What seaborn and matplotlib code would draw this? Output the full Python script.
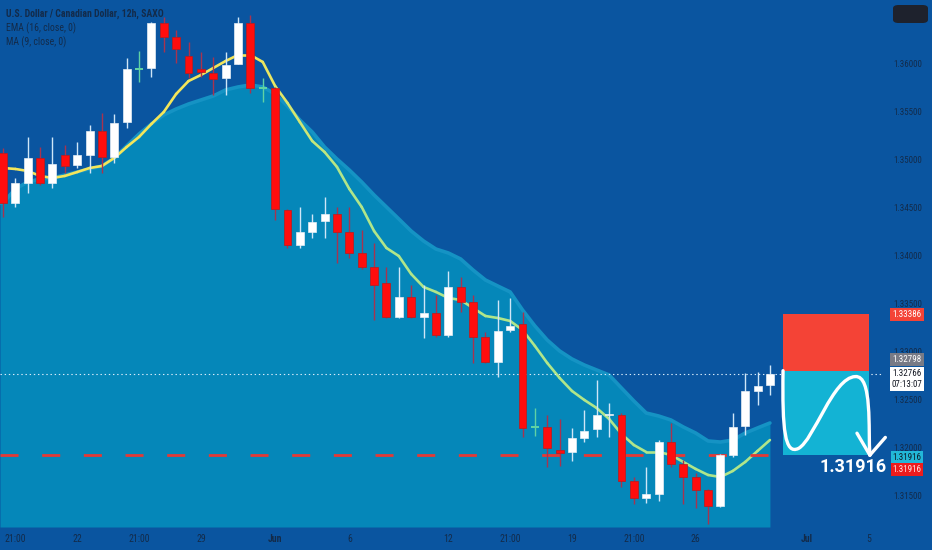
import numpy as np
import matplotlib
matplotlib.use("Agg")
import matplotlib.pyplot as plt
import seaborn as sns
from matplotlib import font_manager
from matplotlib.collections import LineCollection
from matplotlib.colors import to_rgb
from matplotlib.patches import FancyBboxPatch, Rectangle, PathPatch
from matplotlib.path import Path
from matplotlib.transforms import blended_transform_factory

# candles, 12h USDCAD
opens = [1.35071, 1.34549, 1.34758, 1.35019, 1.34758, 1.35050, 1.34945, 1.35050, 1.35300, 1.35029,
         1.35394, 1.35948, 1.35958, 1.36428, 1.36282, 1.36084, 1.35948, 1.35906, 1.35854, 1.36000,
         1.36428, 1.35749, 1.35749, 1.34476, 1.34110, 1.34246, 1.34361, 1.34434, 1.34246, 1.34027,
         1.33881, 1.33714, 1.33359, 1.33567, 1.33359, 1.33400, 1.33171, 1.33672, 1.33515, 1.33150,
         1.32889, 1.33223, 1.33285, 1.32210, 1.32210, 1.31970, 1.31949, 1.32095, 1.32189, 1.32335,
         1.32335, 1.31646, 1.31469, 1.31511, 1.32053, 1.31824, 1.31688, 1.31552, 1.31385, 1.31918,
         1.32220, 1.32586, 1.32649]
highs = [1.35123, 1.34810, 1.35238, 1.35133, 1.35238, 1.35154, 1.35186, 1.35363, 1.35488, 1.35478,
         1.36063, 1.36136, 1.36439, 1.36491, 1.36355, 1.36230, 1.36125, 1.36073, 1.36125, 1.36491,
         1.36512, 1.35854, 1.35760, 1.34486, 1.34507, 1.34434, 1.34611, 1.34507, 1.34507, 1.34267,
         1.34131, 1.33881, 1.33881, 1.33693, 1.33693, 1.33588, 1.33839, 1.33776, 1.33588, 1.33202,
         1.33536, 1.33557, 1.33411, 1.32408, 1.32335, 1.32294, 1.32200, 1.32388, 1.32701, 1.32461,
         1.32356, 1.31688, 1.31792, 1.32074, 1.32252, 1.31866, 1.31730, 1.31560, 1.31925, 1.32356,
         1.32774, 1.32784, 1.32857]
lows = [1.34403, 1.34507, 1.34653, 1.34740, 1.34705, 1.34862, 1.34914, 1.34862, 1.34862, 1.34966,
        1.35332, 1.35812, 1.35864, 1.36125, 1.36010, 1.35854, 1.35864, 1.35676, 1.35676, 1.35995,
        1.35697, 1.35603, 1.34371, 1.34079, 1.34079, 1.34183, 1.34183, 1.33922, 1.33975, 1.33860,
        1.33327, 1.33348, 1.33348, 1.33348, 1.33139, 1.33150, 1.33150, 1.33411, 1.32878, 1.32878,
        1.32732, 1.33202, 1.32106, 1.32116, 1.31792, 1.31803, 1.31855, 1.32053, 1.32106, 1.32106,
        1.31584, 1.31406, 1.31417, 1.31438, 1.31792, 1.31406, 1.31364, 1.31197, 1.31380, 1.31897,
        1.32127, 1.32440, 1.32544]
closes = [1.34549, 1.34758, 1.35019, 1.34758, 1.34956, 1.34935, 1.35050, 1.35300, 1.35029, 1.35384,
          1.35948, 1.35948, 1.36428, 1.36282, 1.36157, 1.35906, 1.35916, 1.35843, 1.35990, 1.36428,
          1.35749, 1.35749, 1.34486, 1.34110, 1.34246, 1.34350, 1.34434, 1.34246, 1.34027, 1.33881,
          1.33693, 1.33359, 1.33567, 1.33359, 1.33400, 1.33171, 1.33672, 1.33515, 1.33150, 1.32889,
          1.33212, 1.33264, 1.32200, 1.32210, 1.31991, 1.31939, 1.32095, 1.32168, 1.32335, 1.32345,
          1.31646, 1.31469, 1.31511, 1.32053, 1.31824, 1.31688, 1.31552, 1.31385, 1.31918, 1.32210,
          1.32586, 1.32638, 1.32763]

# moving average line as drawn
ma_line = [1.34914, 1.34904, 1.34883, 1.34831, 1.34810, 1.34831, 1.34872, 1.34914, 1.34935, 1.35019,
           1.35133, 1.35238, 1.35374, 1.35499, 1.35687, 1.35822, 1.35885, 1.35958, 1.36031, 1.36094,
           1.36094, 1.36021, 1.35770, 1.35593, 1.35394, 1.35196, 1.35081, 1.34925, 1.34695, 1.34507,
           1.34256, 1.34079, 1.33995, 1.33807, 1.33672, 1.33620, 1.33557, 1.33536, 1.33452, 1.33369,
           1.33348, 1.33317, 1.33223, 1.33056, 1.32878, 1.32722, 1.32586, 1.32492, 1.32408, 1.32294,
           1.32137, 1.32022, 1.31949, 1.31949, 1.31918, 1.31845, 1.31772, 1.31709, 1.31688, 1.31751,
           1.31845, 1.31960, 1.32074]

# upper edge of the shaded cloud
band_top = [1.34549, 1.34695, 1.34768, 1.34799, 1.34810, 1.34841, 1.34872, 1.34904, 1.34935, 1.35019,
            1.35144, 1.35269, 1.35374, 1.35468, 1.35530, 1.35582, 1.35624, 1.35666, 1.35729, 1.35760,
            1.35781, 1.35760, 1.35687, 1.35562, 1.35415, 1.35290, 1.35133, 1.35008, 1.34893, 1.34768,
            1.34632, 1.34507, 1.34382, 1.34256, 1.34152, 1.34068, 1.34027, 1.33964, 1.33849, 1.33745,
            1.33682, 1.33620, 1.33432, 1.33265, 1.33118, 1.33004, 1.32920, 1.32857, 1.32805, 1.32753,
            1.32617, 1.32482, 1.32356, 1.32325, 1.32283, 1.32210, 1.32147, 1.32064, 1.32053, 1.32074,
            1.32147, 1.32200, 1.32252]

x_tick_pos = [1, 6, 11, 16, 22, 28, 36, 41, 46, 51, 56, 65, 70]
x_tick_labels = ["21:00", "22", "21:00", "29", "Jun", "6", "12", "21:00", "19", "21:00", "26", "Jul", "5"]
y_ticks = [1.315, 1.320, 1.325, 1.330, 1.335, 1.340, 1.345, 1.350, 1.355, 1.360]

entry_price = 1.32798
stop_price = 1.33386
target_price = 1.31916
last_price = 1.32766
countdown = "07:13:07"

title_lines = ["U.S. Dollar / Canadian Dollar, 12h, SAXO", "EMA (16, close, 0)", "MA (9, close, 0)"]

BG = "#0a55a0"
FILL = "#0587b9"
EDGE = "#1593c4"
UP = "#ffffff"
DOWN = "#ff0d0d"
TXT = "#132b4a"

sns.set_theme(style="dark")
avail = {f.name for f in font_manager.fontManager.ttflist}
narrow = next((f for f in ["Liberation Sans Narrow", "Roboto Condensed", "Roboto", "DejaVu Sans"] if f in avail))
plt.rcParams["font.family"] = [narrow, "DejaVu Sans"]
plt.rcParams["lines.scale_dashes"] = False

fig = plt.figure(figsize=(9.32, 5.5), dpi=100, facecolor=BG)
ax = fig.add_axes([0, 23 / 550, 882 / 932, 527 / 550])
ax.set_facecolor(BG)
for s in ax.spines.values():
    s.set_visible(False)
ax.grid(False)

ymin, ymax = 1.31166, 1.36668
xmin, xmax = -0.24, 71.06
ax.set_ylim(ymin, ymax)
ax.set_xlim(xmin, xmax)
px = (ymax - ymin) / 527.0  # price per pixel

idx = np.arange(len(closes))
o = np.array(opens); h = np.array(highs); l = np.array(lows); c = np.array(closes)
band = np.array(band_top)

# cloud (runs from the left edge of the pane)
fx = np.r_[xmin, idx]
fy = np.r_[band[0], band]
ax.fill_between(fx, ymin, fy, color=FILL, lw=0, zorder=1)
sns.lineplot(x=fx, y=fy, ax=ax, color=EDGE, lw=2.6, zorder=1.5)

# moving average, yellow fading to light green
pts = np.column_stack([idx, ma_line]).reshape(-1, 1, 2)
segs = np.concatenate([pts[:-1], pts[1:]], axis=1)
c1, c2 = np.array(to_rgb("#f4e65a")), np.array(to_rgb("#b0e68a"))
t = np.clip((idx[:-1] - 20) / 7.0, 0, 1)[:, None]
lc = LineCollection(segs, colors=c1 * (1 - t) + c2 * t, linewidths=1.9, zorder=2, capstyle="round")
ax.add_collection(lc)

# target level (dashed) and current price (dotted)
box_x0, box_x1 = 63.06, 70.01
ax.hlines(target_price, xmin, box_x0, colors="#e53935", lw=2.0, linestyles=(0, (13, 17)), zorder=2.5)
ax.axhline(last_price, color="#d8ebfa", lw=0.8, ls=(0, (1, 2)), zorder=2.6)

# candles
up = c > o + 0.00002
doji = np.abs(c - o) <= 0.00002
down = ~up & ~doji
wick_col = np.where(up, "#cfe6f7", np.where(doji, "#5fd2a4", "#a8334f"))
ax.vlines(idx, l, h, colors=wick_col, lw=1.0, zorder=3)
body_lo = np.minimum(o, c)
body_h = np.maximum(np.abs(c - o), 0.00012)
ax.bar(idx[up], body_h[up], bottom=body_lo[up], width=0.64, color=UP, edgecolor="#e6eef5", lw=0.5, zorder=4)
ax.bar(idx[down], body_h[down], bottom=body_lo[down], width=0.64, color=DOWN, edgecolor="#c01818", lw=0.5, zorder=4)
ax.bar(idx[doji], 0.00012, bottom=body_lo[doji] - 0.00006, width=0.64, color="#5fd2a4", lw=0, zorder=4)

# risk / reward boxes
ax.add_patch(Rectangle((box_x0, entry_price), box_x1 - box_x0, stop_price - entry_price,
                       color="#f44336", lw=0, zorder=5))
ax.add_patch(Rectangle((box_x0, target_price), box_x1 - box_x0, entry_price - target_price,
                       color="#13b3d4", lw=0, zorder=5))


def rel(u, v):
    return (box_x0 + u * (box_x1 - box_x0), target_price + v * (entry_price - target_price))


verts = [rel(0.0, 1.0),
         rel(-0.01, 0.3), rel(0.02, 0.0), rel(0.18, 0.08),
         rel(0.36, 0.18), rel(0.58, 0.92), rel(0.84, 0.93),
         rel(1.04, 0.95), rel(0.99, 0.3), rel(1.01, 0.0)]
codes = [Path.MOVETO] + [Path.CURVE4] * 9
ax.add_patch(PathPatch(Path(verts, codes), fill=False, ec="white", lw=2.4, capstyle="round", zorder=6))
tip = rel(1.01, 0.0)
for u, v in [(0.86, 0.26), (1.19, 0.21)]:
    p = rel(u, v)
    ax.plot([p[0], tip[0]], [p[1], tip[1]], color="white", lw=2.4, solid_capstyle="round", zorder=6, clip_on=False)

ax.text(71.46, target_price - 12 * px, f"{target_price:.5f}", ha="right", va="center",
        color="white", fontsize=13, fontweight="bold", family=["Roboto", "DejaVu Sans"],
        zorder=7, clip_on=False)

# axes ticks
ax.yaxis.tick_right()
ax.set_yticks(y_ticks)
ax.set_yticklabels([f"{v:.5f}" for v in y_ticks])
ax.tick_params(axis="y", length=0, pad=8, labelsize=6.5, labelcolor=TXT)
ax.set_xticks(x_tick_pos)
ax.set_xticklabels(x_tick_labels)
ax.tick_params(axis="x", length=0, pad=5, labelsize=7, labelcolor=TXT)
for lab in ax.get_xticklabels():
    if lab.get_text() in ("Jun", "Jul"):
        lab.set_fontweight("bold")

# price tags on the scale
tr = blended_transform_factory(fig.transFigure, ax.transData)
tag_x = 907 / 932
tags = [
    (stop_price, f"{stop_price:.5f}", "#f44336", "white"),
    (entry_price + 11 * px, f"{entry_price:.5f}", "#787b86", "white"),
    (last_price - 5 * px, f"{last_price:.5f}\n{countdown}", "white", "#131722"),
    (target_price - 2 * px, f"{target_price:.5f}", "#22b7d8", "#0d1b2a"),
    (target_price - 14 * px, f"{target_price:.5f}", "#ee1c1c", "#ffe6e6"),
]
for y, s, bg, fg in tags:
    ax.text(tag_x, y, s, transform=tr, ha="center", va="center", fontsize=6.5, color=fg,
            linespacing=1.25, zorder=8, clip_on=False,
            bbox=dict(boxstyle="square,pad=0.22", fc=bg, ec="none"))

# legend text top left
for i, s in enumerate(title_lines):
    ax.text(6 / 882, 1 - (14 + 14 * i) / 527, s, transform=ax.transAxes, ha="left", va="center",
            fontsize=7, color=TXT, fontweight="bold" if i == 0 else "normal", zorder=8)

fig.patches.append(FancyBboxPatch((893 / 932, 1 - 23 / 550), 35 / 932, 18 / 550,
                                  boxstyle="round,pad=0,rounding_size=0.006",
                                  transform=fig.transFigure, fc="#1e222d", ec="none"))

fig.savefig("out.png", dpi=100, facecolor=BG)
